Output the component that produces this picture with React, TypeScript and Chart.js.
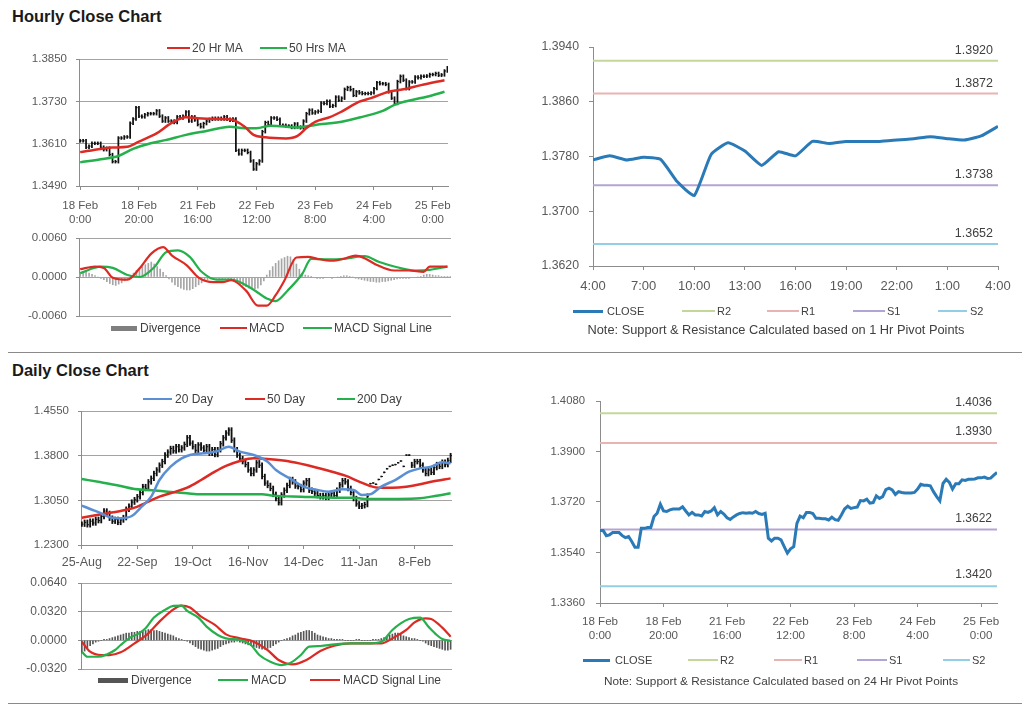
import React, { useEffect, useRef } from 'react';
import { Chart, registerables } from 'chart.js';

Chart.register(...registerables);

const FONT = "'Liberation Sans', Arial, Helvetica, sans-serif";
const TICK_COLOR = '#595959';
const TEXT_COLOR = '#404040';
const AXIS_COLOR = '#8c8c8c';
const GRID_COLOR = '#a3a3a3';
const RED = '#dc2a24';
const GREEN = '#25b04c';
const BLUE_MA = '#5b8fd4';
const CLOSE_BLUE = '#2a7ab8';
const PIVOT_COLORS = ['#c4d79b', '#e8b4b2', '#b3a5d3', '#92cfe4'];
const PIVOT_NAMES = ['R2', 'R1', 'S1', 'S2'];

// ---------- Hourly data (18 Feb 0:00 .. 25 Feb ~5:00) ----------
const hourlyTickIdx = [0, 20, 40, 60, 80, 100, 120];
const hourlyTickDates = ['18 Feb', '18 Feb', '21 Feb', '22 Feb', '23 Feb', '24 Feb', '25 Feb'];
const hourlyTickTimes = ['0:00', '20:00', '16:00', '12:00', '8:00', '4:00', '0:00'];

const hourlyClose = [
  1.3618, 1.3618, 1.3600, 1.3603, 1.3611, 1.3611, 1.3611, 1.3600, 1.3593, 1.3597,
  1.3579, 1.3559, 1.3559, 1.3626, 1.3626, 1.3629, 1.3629, 1.3668, 1.3680, 1.3712,
  1.3688, 1.3686, 1.3692, 1.3695, 1.3695, 1.3695, 1.3703, 1.3688, 1.3674, 1.3683,
  1.3674, 1.3674, 1.3670, 1.3686, 1.3683, 1.3688, 1.3700, 1.3674, 1.3686, 1.3677,
  1.3664, 1.3658, 1.3667, 1.3674, 1.3679, 1.3682, 1.3680, 1.3682, 1.3680, 1.3686,
  1.3679, 1.3676, 1.3680, 1.3591, 1.3581, 1.3591, 1.3591, 1.3585, 1.3561, 1.3538,
  1.3553, 1.3561, 1.3644, 1.3670, 1.3664, 1.3683, 1.3683, 1.3679, 1.3662, 1.3662,
  1.3660, 1.3660, 1.3656, 1.3666, 1.3657, 1.3655, 1.3674, 1.3695, 1.3705, 1.3697,
  1.3700, 1.3702, 1.3725, 1.3724, 1.3730, 1.3716, 1.3718, 1.3742, 1.3733, 1.3739,
  1.3764, 1.3769, 1.3763, 1.3747, 1.3757, 1.3754, 1.3752, 1.3752, 1.3752, 1.3754,
  1.3766, 1.3783, 1.3780, 1.3780, 1.3778, 1.3757, 1.3739, 1.3724, 1.3786, 1.3801,
  1.3790, 1.3766, 1.3785, 1.3785, 1.3799, 1.3797, 1.3801, 1.3801, 1.3802, 1.3806,
  1.3806, 1.3809, 1.3804, 1.3805, 1.3816, 1.3825,
];

const hourlyHigh = [
  1.3622, 1.3622, 1.3622, 1.3607, 1.3615, 1.3615, 1.3615, 1.3615, 1.3604, 1.3601,
  1.3601, 1.3583, 1.3563, 1.3630, 1.3630, 1.3633, 1.3633, 1.3672, 1.3684, 1.3716,
  1.3716, 1.3692, 1.3696, 1.3699, 1.3699, 1.3699, 1.3707, 1.3707, 1.3692, 1.3687,
  1.3687, 1.3678, 1.3678, 1.3690, 1.3690, 1.3692, 1.3704, 1.3704, 1.3690, 1.3690,
  1.3681, 1.3668, 1.3671, 1.3678, 1.3683, 1.3686, 1.3686, 1.3686, 1.3686, 1.3690,
  1.3690, 1.3683, 1.3684, 1.3684, 1.3595, 1.3595, 1.3595, 1.3595, 1.3589, 1.3565,
  1.3557, 1.3565, 1.3648, 1.3674, 1.3674, 1.3687, 1.3687, 1.3687, 1.3683, 1.3666,
  1.3666, 1.3664, 1.3664, 1.3670, 1.3670, 1.3661, 1.3678, 1.3699, 1.3709, 1.3709,
  1.3704, 1.3706, 1.3729, 1.3729, 1.3734, 1.3734, 1.3722, 1.3746, 1.3746, 1.3743,
  1.3768, 1.3773, 1.3773, 1.3767, 1.3761, 1.3761, 1.3758, 1.3756, 1.3756, 1.3758,
  1.3770, 1.3787, 1.3787, 1.3784, 1.3784, 1.3782, 1.3761, 1.3743, 1.3790, 1.3805,
  1.3805, 1.3794, 1.3789, 1.3789, 1.3803, 1.3803, 1.3805, 1.3805, 1.3806, 1.3810,
  1.3810, 1.3813, 1.3813, 1.3809, 1.3820, 1.3829,
];

const hourlyLow = [
  1.3614, 1.3614, 1.3596, 1.3596, 1.3599, 1.3607, 1.3607, 1.3596, 1.3589, 1.3589,
  1.3575, 1.3555, 1.3555, 1.3555, 1.3622, 1.3622, 1.3625, 1.3625, 1.3664, 1.3676,
  1.3684, 1.3682, 1.3682, 1.3688, 1.3691, 1.3691, 1.3691, 1.3684, 1.3670, 1.3670,
  1.3670, 1.3670, 1.3666, 1.3666, 1.3679, 1.3679, 1.3684, 1.3670, 1.3670, 1.3673,
  1.3660, 1.3654, 1.3654, 1.3663, 1.3670, 1.3675, 1.3676, 1.3676, 1.3676, 1.3676,
  1.3675, 1.3672, 1.3672, 1.3587, 1.3577, 1.3577, 1.3587, 1.3581, 1.3557, 1.3534,
  1.3534, 1.3549, 1.3557, 1.3640, 1.3660, 1.3660, 1.3679, 1.3675, 1.3658, 1.3658,
  1.3656, 1.3656, 1.3652, 1.3652, 1.3653, 1.3651, 1.3651, 1.3670, 1.3691, 1.3693,
  1.3693, 1.3696, 1.3698, 1.3720, 1.3720, 1.3712, 1.3712, 1.3714, 1.3729, 1.3729,
  1.3735, 1.3760, 1.3759, 1.3743, 1.3743, 1.3750, 1.3748, 1.3748, 1.3748, 1.3748,
  1.3750, 1.3762, 1.3776, 1.3776, 1.3774, 1.3753, 1.3735, 1.3720, 1.3720, 1.3782,
  1.3786, 1.3762, 1.3762, 1.3781, 1.3781, 1.3793, 1.3793, 1.3797, 1.3797, 1.3798,
  1.3802, 1.3802, 1.3800, 1.3800, 1.3801, 1.3812,
];

const ma20HrIdx = [0, 7, 11, 16, 20, 26, 31, 36, 40, 46, 51, 56, 59, 63, 70, 74, 77, 80, 85, 89, 95, 99, 105, 110, 116, 124];
const ma20HrVal = [1.3586, 1.3595, 1.3599, 1.3601, 1.3616, 1.3639, 1.3668, 1.3685, 1.3682, 1.3680, 1.3679, 1.3658, 1.3635, 1.3628, 1.3625, 1.3632, 1.3654, 1.3672, 1.3685, 1.3701, 1.3729, 1.3739, 1.3757, 1.3764, 1.3776, 1.3790];
const ma50HrIdx = [0, 7, 13, 18, 24, 29, 36, 43, 51, 56, 60, 65, 74, 80, 89, 96, 103, 107, 113, 118, 124];
const ma50HrVal = [1.3557, 1.3566, 1.3575, 1.3595, 1.3611, 1.3620, 1.3635, 1.3646, 1.3658, 1.3654, 1.3654, 1.3661, 1.3656, 1.3663, 1.3672, 1.3686, 1.3703, 1.3720, 1.3734, 1.3743, 1.3757];

const hMacdIdx = [0, 5, 8, 11, 16, 20, 24, 28, 31, 36, 40, 45, 48, 51, 56, 60, 63, 66, 69, 73, 77, 80, 85, 89, 93, 96, 100, 106, 111, 116, 118, 124];
const hMacdVal = [0.0012, 0.0016, 0.0014, -0.0001, -0.0004, 0.0013, 0.0036, 0.0046, 0.0033, 0.0018, -0.0001, -0.0008, -0.0008, -0.0005, -0.0021, -0.0044, -0.0044, -0.0028, -0.0005, 0.0030, 0.0031, 0.0028, 0.0025, 0.0028, 0.0033, 0.0029, 0.0019, 0.0010, 0.0010, 0.0008, 0.0016, 0.0016];
const hSignalIdx = [0, 7, 11, 16, 20, 25, 29, 33, 37, 41, 46, 51, 58, 63, 66, 70, 75, 78, 84, 89, 96, 101, 107, 113, 118, 124];
const hSignalVal = [0.0006, 0.0016, 0.0014, 0.0003, 0.0000, 0.0015, 0.0038, 0.0041, 0.0031, 0.0008, -0.0004, -0.0004, -0.0018, -0.0033, -0.0037, -0.0021, 0.0005, 0.0028, 0.0027, 0.0028, 0.0032, 0.0023, 0.0015, 0.0010, 0.0011, 0.0016];
const hDivergence = [
  0.0005, 0.0007, 0.0008, 0.0006, 0.0004, 0.0002, 0.0000, -0.0002, -0.0004, -0.0007,
  -0.0010, -0.0012, -0.0013, -0.0011, -0.0009, -0.0006, -0.0003, 0.0002, 0.0006, 0.0010,
  0.0013, 0.0016, 0.0019, 0.0021, 0.0023, 0.0020, 0.0016, 0.0012, 0.0007, 0.0002,
  -0.0003, -0.0008, -0.0012, -0.0015, -0.0017, -0.0019, -0.0020, -0.0020, -0.0018, -0.0015,
  -0.0012, -0.0009, -0.0006, -0.0004, -0.0003, -0.0003, -0.0002, -0.0003, -0.0003, -0.0002,
  -0.0003, -0.0005, -0.0007, -0.0009, -0.0011, -0.0013, -0.0015, -0.0017, -0.0018, -0.0018,
  -0.0017, -0.0012, -0.0006, 0.0003, 0.0010, 0.0016, 0.0021, 0.0025, 0.0028, 0.0030,
  0.0032, 0.0031, 0.0027, 0.0020, 0.0012, 0.0006, 0.0003, 0.0002, 0.0001, -0.0001,
  -0.0002, -0.0002, -0.0002, -0.0001, -0.0001, -0.0002, -0.0001, 0.0000, 0.0001, 0.0002,
  0.0002, 0.0001, 0.0000, -0.0002, -0.0003, -0.0004, -0.0005, -0.0006, -0.0007, -0.0007,
  -0.0008, -0.0008, -0.0007, -0.0007, -0.0006, -0.0005, -0.0004, -0.0003, -0.0002, -0.0002,
  -0.0002, -0.0002, -0.0001, -0.0001, 0.0000, 0.0001, 0.0003, 0.0004, 0.0004, 0.0003,
  0.0002, 0.0002, 0.0001, 0.0001, 0.0001, 0.0001,
];

// last 24 hours close (4:00 .. 4:00)
const lastDayClose = [1.3775, 1.3781, 1.3775, 1.3779, 1.3776, 1.3743, 1.3723, 1.3783, 1.3800, 1.3788, 1.3767, 1.3787, 1.3781, 1.3802, 1.3799, 1.3802, 1.3802, 1.3802, 1.3804, 1.3806, 1.3809, 1.3806, 1.3804, 1.3810, 1.3824];
const lastDayTickIdx = [0, 3, 6, 9, 12, 15, 18, 21, 24];
const lastDayTickLabels = ['4:00', '7:00', '10:00', '13:00', '16:00', '19:00', '22:00', '1:00', '4:00'];
const hourPivotLevels = [1.3920, 1.3872, 1.3738, 1.3652];
const hourPivotTicks = [1.3620, 1.3700, 1.3780, 1.3860, 1.3940];

// ---------- Daily data (25-Aug .. 24-Feb) ----------
const dailyTickIdx = [0, 20, 40, 60, 80, 100, 120];
const dailyTickLabels = ['25-Aug', '22-Sep', '19-Oct', '16-Nov', '14-Dec', '11-Jan', '8-Feb'];
const dailyClose = [
  1.2650, 1.2680, 1.2640, 1.2700, 1.2670, 1.2730, 1.2710, 1.2780, 1.2870, 1.2830,
  1.2750, 1.2700, 1.2730, 1.2680, 1.2720, 1.2760, 1.2900, 1.2950, 1.3020, 1.3060,
  1.3110, 1.3180, 1.3280, 1.3250, 1.3360, 1.3420, 1.3500, 1.3560, 1.3640, 1.3700,
  1.3810, 1.3860, 1.3920, 1.3880, 1.3950, 1.3900, 1.3930, 1.3990, 1.4100, 1.4010,
  1.3950, 1.3890, 1.3980, 1.3930, 1.3890, 1.3950, 1.3840, 1.3900, 1.3820, 1.3900,
  1.4000, 1.4100, 1.4180, 1.4230, 1.4060, 1.3900, 1.3810, 1.3750, 1.3700, 1.3650,
  1.3560, 1.3500, 1.3560, 1.3680, 1.3640, 1.3450, 1.3340, 1.3300, 1.3250, 1.3150,
  1.3080, 1.3010, 1.3140, 1.3220, 1.3300, 1.3400, 1.3360, 1.3290, 1.3280, 1.3230,
  1.3340, 1.3380, 1.3220, 1.3200, 1.3170, 1.3130, 1.3110, 1.3130, 1.3100, 1.3140,
  1.3170, 1.3130, 1.3220, 1.3310, 1.3380, 1.3360, 1.3250, 1.3180, 1.3080, 1.2990,
  1.2950, 1.2960, 1.2980, 1.3120, 1.3330, 1.3340, 1.3320, 1.3400, 1.3450, 1.3520,
  1.3580, 1.3620, 1.3640, 1.3650, 1.3680, 1.3710, 1.3620, 1.3810, 1.3810, 1.3640,
  1.3700, 1.3700, 1.3640, 1.3560, 1.3500, 1.3560, 1.3520, 1.3600, 1.3650, 1.3620,
  1.3690, 1.3650, 1.3720, 1.3800,
];
const dailyHigh = [
  1.2690, 1.2720, 1.2720, 1.2740, 1.2740, 1.2770, 1.2770, 1.2820, 1.2910, 1.2910,
  1.2870, 1.2790, 1.2770, 1.2770, 1.2760, 1.2800, 1.2940, 1.2990, 1.3060, 1.3100,
  1.3150, 1.3220, 1.3320, 1.3320, 1.3400, 1.3460, 1.3540, 1.3600, 1.3680, 1.3740,
  1.3850, 1.3900, 1.3960, 1.3960, 1.3990, 1.3990, 1.3970, 1.4030, 1.4140, 1.4140,
  1.4050, 1.3990, 1.4020, 1.4020, 1.3970, 1.3990, 1.3990, 1.3940, 1.3940, 1.3940,
  1.4040, 1.4140, 1.4220, 1.4270, 1.4270, 1.4100, 1.3940, 1.3850, 1.3790, 1.3740,
  1.3690, 1.3600, 1.3600, 1.3720, 1.3720, 1.3680, 1.3490, 1.3380, 1.3340, 1.3290,
  1.3190, 1.3120, 1.3180, 1.3260, 1.3340, 1.3440, 1.3440, 1.3400, 1.3330, 1.3320,
  1.3380, 1.3420, 1.3420, 1.3260, 1.3240, 1.3210, 1.3170, 1.3170, 1.3170, 1.3180,
  1.3210, 1.3210, 1.3260, 1.3350, 1.3420, 1.3420, 1.3400, 1.3290, 1.3220, 1.3120,
  1.3030, 1.3000, 1.3020, 1.3160, 1.3338, 1.3348, 1.3328, 1.3408, 1.3458, 1.3528,
  1.3588, 1.3628, 1.3648, 1.3658, 1.3688, 1.3718, 1.3628, 1.3818, 1.3818, 1.3690,
  1.3740, 1.3740, 1.3740, 1.3680, 1.3600, 1.3600, 1.3600, 1.3640, 1.3690, 1.3690,
  1.3730, 1.3730, 1.3760, 1.3840,
];
const dailyLow = [
  1.2610, 1.2610, 1.2600, 1.2600, 1.2630, 1.2630, 1.2670, 1.2670, 1.2740, 1.2790,
  1.2710, 1.2660, 1.2660, 1.2640, 1.2640, 1.2680, 1.2720, 1.2860, 1.2910, 1.2980,
  1.3020, 1.3070, 1.3140, 1.3210, 1.3210, 1.3320, 1.3380, 1.3460, 1.3520, 1.3600,
  1.3660, 1.3770, 1.3820, 1.3840, 1.3840, 1.3860, 1.3860, 1.3890, 1.3950, 1.3970,
  1.3910, 1.3850, 1.3850, 1.3890, 1.3850, 1.3850, 1.3800, 1.3800, 1.3780, 1.3780,
  1.3860, 1.3960, 1.4060, 1.4140, 1.4020, 1.3860, 1.3770, 1.3710, 1.3660, 1.3610,
  1.3520, 1.3460, 1.3460, 1.3520, 1.3600, 1.3410, 1.3300, 1.3260, 1.3210, 1.3110,
  1.3040, 1.2970, 1.2970, 1.3100, 1.3180, 1.3260, 1.3320, 1.3250, 1.3240, 1.3190,
  1.3190, 1.3300, 1.3180, 1.3160, 1.3130, 1.3090, 1.3070, 1.3070, 1.3060, 1.3060,
  1.3100, 1.3090, 1.3090, 1.3180, 1.3270, 1.3320, 1.3210, 1.3140, 1.3040, 1.2950,
  1.2910, 1.2910, 1.2920, 1.2940, 1.3322, 1.3332, 1.3312, 1.3392, 1.3442, 1.3512,
  1.3572, 1.3612, 1.3632, 1.3642, 1.3672, 1.3702, 1.3612, 1.3802, 1.3802, 1.3600,
  1.3600, 1.3660, 1.3600, 1.3520, 1.3460, 1.3460, 1.3480, 1.3480, 1.3560, 1.3580,
  1.3580, 1.3610, 1.3610, 1.3680,
];

const ma20DayIdx = [0, 3, 7, 10, 14, 18, 21, 25, 28, 32, 36, 39, 44, 49, 53, 57, 62, 67, 70, 75, 80, 85, 89, 94, 98, 101, 104, 108, 113, 118, 122, 126, 130, 133];
const ma20DayVal = [1.2961, 1.2904, 1.2832, 1.2765, 1.2748, 1.2787, 1.2916, 1.3112, 1.3391, 1.3615, 1.3755, 1.3811, 1.3839, 1.3878, 1.3951, 1.3867, 1.3811, 1.3699, 1.3559, 1.3419, 1.3280, 1.3224, 1.3196, 1.3235, 1.3224, 1.3140, 1.3151, 1.3280, 1.3391, 1.3531, 1.3587, 1.3615, 1.3688, 1.3671];
const ma50DayIdx = [0, 7, 14, 19, 24, 28, 33, 38, 43, 48, 52, 57, 62, 67, 74, 81, 88, 95, 100, 104, 107, 112, 117, 122, 126, 133];
const ma50DayVal = [1.2759, 1.2815, 1.2871, 1.2927, 1.3028, 1.3112, 1.3184, 1.3263, 1.3391, 1.3531, 1.3627, 1.3710, 1.3755, 1.3744, 1.3710, 1.3643, 1.3559, 1.3464, 1.3363, 1.3291, 1.3263, 1.3263, 1.3280, 1.3319, 1.3363, 1.3419];
const ma200DayIdx = [0, 7, 14, 19, 24, 31, 38, 43, 55, 65, 69, 79, 91, 98, 102, 114, 122, 126, 133];
const ma200DayVal = [1.3408, 1.3352, 1.3291, 1.3240, 1.3224, 1.3196, 1.3168, 1.3151, 1.3151, 1.3151, 1.3129, 1.3112, 1.3095, 1.3095, 1.3073, 1.3073, 1.3084, 1.3112, 1.3168];

const dMacdIdx = [0, 2, 6, 9, 12, 14, 18, 20, 23, 26, 30, 33, 36, 38, 42, 45, 49, 52, 57, 61, 64, 68, 72, 75, 79, 82, 86, 91, 97, 103, 108, 112, 115, 118, 122, 125, 128, 130, 133];
const dMacdVal = [-0.0127, -0.0183, -0.0183, -0.0157, -0.0108, -0.0052, 0.0041, 0.0067, 0.0134, 0.0254, 0.0340, 0.0384, 0.0388, 0.0328, 0.0254, 0.0153, 0.0060, 0.0022, 0.0004, -0.0052, -0.0164, -0.0239, -0.0276, -0.0257, -0.0164, -0.0071, -0.0063, -0.0045, -0.0034, -0.0034, -0.0015, 0.0116, 0.0190, 0.0239, 0.0254, 0.0153, 0.0060, 0.0015, -0.0007];
const dSignalIdx = [0, 3, 7, 10, 14, 19, 24, 28, 32, 36, 39, 43, 48, 52, 57, 62, 67, 71, 76, 81, 86, 91, 97, 103, 108, 112, 117, 120, 124, 126, 130, 133];
const dSignalVal = [-0.0015, -0.0127, -0.0164, -0.0164, -0.0134, -0.0034, 0.0078, 0.0209, 0.0321, 0.0388, 0.0366, 0.0265, 0.0172, 0.0067, 0.0022, -0.0015, -0.0108, -0.0220, -0.0269, -0.0220, -0.0119, -0.0060, -0.0034, -0.0034, -0.0034, 0.0022, 0.0116, 0.0201, 0.0246, 0.0239, 0.0142, 0.0041];
const dDivergence = [
  -0.014, -0.012, -0.009, -0.006, -0.004, -0.002, -0.001, 0.000, 0.001, 0.001,
  0.002, 0.003, 0.004, 0.005, 0.006, 0.007, 0.008, 0.008, 0.009, 0.009,
  0.010, 0.010, 0.010, 0.011, 0.012, 0.012, 0.011, 0.011, 0.010, 0.009,
  0.008, 0.007, 0.006, 0.005, 0.003, 0.002, 0.001, 0.000, -0.001, -0.003,
  -0.005, -0.007, -0.009, -0.010, -0.011, -0.012, -0.012, -0.011, -0.010, -0.009,
  -0.007, -0.005, -0.004, -0.003, -0.002, -0.002, -0.001, -0.002, -0.003, -0.004,
  -0.005, -0.006, -0.007, -0.008, -0.009, -0.010, -0.010, -0.009, -0.008, -0.006,
  -0.004, -0.002, 0.000, 0.001, 0.002, 0.003, 0.005, 0.006, 0.008, 0.009,
  0.010, 0.011, 0.011, 0.010, 0.008, 0.006, 0.005, 0.004, 0.003, 0.002,
  0.002, 0.001, 0.001, 0.001, 0.001, 0.000, 0.000, 0.000, 0.000, 0.001,
  0.001, 0.000, 0.000, 0.000, 0.000, 0.001, 0.001, 0.001, 0.002, 0.003,
  0.004, 0.006, 0.007, 0.008, 0.008, 0.007, 0.005, 0.004, 0.003, 0.002,
  0.002, 0.001, 0.000, -0.001, -0.003, -0.005, -0.006, -0.007, -0.008, -0.009,
  -0.010, -0.011, -0.011, -0.010,
];

const dayPivotLevels = [1.4036, 1.3930, 1.3622, 1.3420];
const dayPivotTicks = [1.3360, 1.3540, 1.3720, 1.3900, 1.4080];

const hourPriceTicks = [1.3490, 1.3610, 1.3730, 1.3850];
const hourMacdTicks = [-0.0060, 0.0000, 0.0060];
const dayPriceTicks = [1.2300, 1.3050, 1.3800, 1.4550];
const dayMacdTicks = [-0.0320, 0.0000, 0.0320, 0.0640];

// ---------- helpers ----------
const pts = (idx: number[], val: number[]) => idx.map((x, i) => ({ x, y: val[i] }));
const seq = (val: number[]) => val.map((y, x) => ({ x, y }));

function yScale(o: { min: number; max: number; ticks: number[]; width: number; size: number; pad: number; grid: boolean; tickLen?: number }) {
  return {
    type: 'linear',
    position: 'left',
    min: o.min,
    max: o.max,
    afterBuildTicks: (s: any) => { s.ticks = o.ticks.map((v) => ({ value: v })); },
    afterFit: (s: any) => { s.width = o.width; },
    ticks: {
      color: TICK_COLOR,
      font: { family: FONT, size: o.size },
      padding: o.pad,
      callback: (v: any) => {
        const n = Math.abs(Number(v)) < 1e-9 ? 0 : Number(v);
        return n.toFixed(4);
      },
    },
    grid: {
      drawOnChartArea: o.grid,
      color: GRID_COLOR,
      tickColor: AXIS_COLOR,
      tickLength: o.tickLen ?? 3,
      lineWidth: 1,
    },
    border: { display: true, color: AXIS_COLOR, width: 1 },
  };
}

function xScale(o: { min: number; max: number; ticks: number[]; labels: any[]; height: number; size: number; pad: number; display?: boolean }) {
  return {
    type: 'linear',
    min: o.min,
    max: o.max,
    offset: false,
    display: o.display ?? true,
    afterBuildTicks: (s: any) => { s.ticks = o.ticks.map((v) => ({ value: v })); },
    afterFit: (s: any) => { s.height = o.height; },
    ticks: {
      color: TICK_COLOR,
      font: { family: FONT, size: o.size },
      padding: o.pad,
      maxRotation: 0,
      minRotation: 0,
      autoSkip: false,
      callback: (_v: any, i: number) => o.labels[i],
    },
    grid: { drawOnChartArea: false, offset: false, color: AXIS_COLOR, tickLength: 4 },
    border: { display: true, color: AXIS_COLOR, width: 1 },
  };
}

function baseOptions(padding: any, scales: any) {
  return {
    animation: false,
    responsive: false,
    maintainAspectRatio: false,
    devicePixelRatio: 1,
    events: [],
    layout: { padding },
    plugins: { legend: { display: false }, tooltip: { enabled: false } },
    scales,
  };
}

function pivotLabelPlugin(levels: number[], size: number, gap: number) {
  return {
    id: 'pivotLabels',
    afterDatasetsDraw(chart: any) {
      const { ctx, chartArea, scales } = chart;
      ctx.save();
      ctx.font = `${size}px ${FONT}`;
      ctx.fillStyle = TEXT_COLOR;
      ctx.textAlign = 'right';
      ctx.textBaseline = 'bottom';
      levels.forEach((v) => {
        ctx.fillText(v.toFixed(4), chartArea.right - 5, scales.y.getPixelForValue(v) - gap);
      });
      ctx.restore();
    },
  };
}

function lineDs(data: any[], color: string, width: number, smooth = true) {
  return {
    type: 'line',
    data,
    borderColor: color,
    backgroundColor: color,
    borderWidth: width,
    pointRadius: 0,
    fill: false,
    cubicInterpolationMode: smooth ? 'monotone' : 'default',
    tension: 0,
  };
}

function ohlcDatasets(low: number[], high: number[], close: number[], thick: number) {
  return [
    {
      type: 'scatter',
      data: seq(close),
      pointStyle: 'dash',
      pointRadius: 1.6,
      borderColor: '#111',
      borderWidth: 1,
      showLine: false,
    },
    {
      type: 'bar',
      data: low.map((lo, i) => ({ x: i, y: [lo, high[i]] })),
      backgroundColor: '#111',
      borderWidth: 0,
      barThickness: thick,
      grouped: false,
    },
  ];
}

// ---------- chart configs ----------
const makeHourlyPrice = () => ({
  type: 'bar',
  data: {
    datasets: [
      lineDs(pts(ma20HrIdx, ma20HrVal), RED, 2.5),
      lineDs(pts(ma50HrIdx, ma50HrVal), GREEN, 2.5),
      ...ohlcDatasets(hourlyLow, hourlyHigh, hourlyClose, 1.1),
    ],
  },
  options: baseOptions({ top: 19, right: 9, left: 0, bottom: 0 }, {
    x: xScale({ min: -0.4, max: 125.2, ticks: hourlyTickIdx, labels: hourlyTickIdx.map((_, i) => [hourlyTickDates[i], hourlyTickTimes[i]]), height: 44, size: 11.5, pad: 9 }),
    y: yScale({ min: 1.3490, max: 1.3850, ticks: hourPriceTicks, width: 79, size: 11.5, pad: 9, grid: true }),
  }),
});

const makeHourlyMacd = () => ({
  type: 'bar',
  data: {
    datasets: [
      lineDs(pts(hMacdIdx, hMacdVal), RED, 2.2),
      lineDs(pts(hSignalIdx, hSignalVal), GREEN, 2.2),
      {
        type: 'bar',
        data: seq(hDivergence),
        backgroundColor: '#a6a6a6',
        borderWidth: 0,
        barThickness: 1,
        grouped: false,
      },
    ],
  },
  options: baseOptions({ top: 20, right: 9, left: 0, bottom: 20 }, {
    x: xScale({ min: -0.4, max: 125.2, ticks: hourlyTickIdx, labels: [], height: 0, size: 11, pad: 0, display: false }),
    y: yScale({ min: -0.006, max: 0.006, ticks: hourMacdTicks, width: 79, size: 11.5, pad: 9, grid: true }),
  }),
});

const makeHourPivot = () => ({
  type: 'line',
  data: {
    datasets: [
      { ...lineDs(seq(lastDayClose), CLOSE_BLUE, 3, false), tension: 0.15 },
      ...hourPivotLevels.map((v, k) => lineDs([{ x: 0, y: v }, { x: 24, y: v }], PIVOT_COLORS[k], 2, false)),
    ],
  },
  options: baseOptions({ top: 20, right: 22, left: 0, bottom: 0 }, {
    x: xScale({ min: 0, max: 24, ticks: lastDayTickIdx, labels: lastDayTickLabels, height: 34, size: 13, pad: 9 }),
    y: yScale({ min: 1.3620, max: 1.3940, ticks: hourPivotTicks, width: 73, size: 12.3, pad: 10, grid: false, tickLen: 4 }),
  }),
  plugins: [pivotLabelPlugin(hourPivotLevels, 12.5, 4)],
});

const makeDailyPrice = () => ({
  type: 'bar',
  data: {
    datasets: [
      lineDs(pts(ma20DayIdx, ma20DayVal), BLUE_MA, 2.5),
      lineDs(pts(ma50DayIdx, ma50DayVal), RED, 2.5),
      lineDs(pts(ma200DayIdx, ma200DayVal), GREEN, 2.5),
      ...ohlcDatasets(dailyLow, dailyHigh, dailyClose, 1.2),
    ],
  },
  options: baseOptions({ top: 18, right: 8, left: 0, bottom: 0 }, {
    x: xScale({ min: -0.3, max: 133.5, ticks: dailyTickIdx, labels: dailyTickLabels, height: 30, size: 12.5, pad: 6 }),
    y: yScale({ min: 1.2300, max: 1.4550, ticks: dayPriceTicks, width: 81, size: 11.5, pad: 9, grid: true }),
  }),
});

const makeDailyMacd = () => ({
  type: 'bar',
  data: {
    datasets: [
      lineDs(pts(dMacdIdx, dMacdVal), GREEN, 2.2),
      lineDs(pts(dSignalIdx, dSignalVal), RED, 2.2),
      {
        type: 'bar',
        data: seq(dDivergence),
        backgroundColor: '#555555',
        borderWidth: 0,
        barThickness: 1,
        grouped: false,
      },
    ],
  },
  options: baseOptions({ top: 22, right: 8, left: 0, bottom: 22 }, {
    x: xScale({ min: -0.3, max: 133.5, ticks: dailyTickIdx, labels: [], height: 0, size: 11, pad: 0, display: false }),
    y: yScale({ min: -0.032, max: 0.064, ticks: dayMacdTicks, width: 81, size: 12, pad: 11, grid: true }),
  }),
});

const makeDayPivot = () => ({
  type: 'line',
  data: {
    datasets: [
      lineDs(seq(hourlyClose), CLOSE_BLUE, 3, false),
      ...dayPivotLevels.map((v, k) => lineDs([{ x: 0, y: v }, { x: 125, y: v }], PIVOT_COLORS[k], 2, false)),
    ],
  },
  options: baseOptions({ top: 20, right: 23, left: 0, bottom: 0 }, {
    x: xScale({ min: 0, max: 125, ticks: hourlyTickIdx, labels: hourlyTickIdx.map((_, i) => [hourlyTickDates[i], hourlyTickTimes[i]]), height: 44, size: 11.6, pad: 8 }),
    y: yScale({ min: 1.3360, max: 1.4080, ticks: dayPivotTicks, width: 80, size: 11.3, pad: 11, grid: false, tickLen: 4 }),
  }),
  plugins: [pivotLabelPlugin(dayPivotLevels, 12, 5)],
});

// ---------- components ----------
function ChartBox(props: { left: number; top: number; width: number; height: number; make: () => any }) {
  const ref = useRef<HTMLCanvasElement | null>(null);
  useEffect(() => {
    const chart = new Chart(ref.current as HTMLCanvasElement, props.make());
    return () => chart.destroy();
  }, []);
  return (
    <canvas
      ref={ref}
      width={props.width}
      height={props.height}
      style={{ position: 'absolute', left: props.left, top: props.top, width: props.width, height: props.height }}
    />
  );
}

function Txt(props: { x: number; y: number; text: string; size: number; bold?: boolean; center?: boolean; color?: string }) {
  const lh = Math.round(props.size * 1.3);
  return (
    <div
      style={{
        position: 'absolute',
        left: props.x,
        top: props.y - lh / 2,
        lineHeight: `${lh}px`,
        fontSize: props.size,
        fontFamily: FONT,
        fontWeight: props.bold ? 'bold' : 'normal',
        color: props.color ?? TEXT_COLOR,
        whiteSpace: 'nowrap',
        transform: props.center ? 'translateX(-50%)' : undefined,
      }}
    >
      {props.text}
    </div>
  );
}

function Swatch(props: { x1: number; x2: number; y: number; color: string; h: number }) {
  return (
    <div
      style={{
        position: 'absolute',
        left: props.x1,
        top: props.y - props.h / 2,
        width: props.x2 - props.x1,
        height: props.h,
        background: props.color,
      }}
    />
  );
}

function Rule(props: { y: number }) {
  return <div style={{ position: 'absolute', left: 8, top: props.y, width: 1014, height: 1, background: '#8a8a8a' }} />;
}

export default function App() {
  const hourLegendX = [573, 682, 767, 853, 938];
  const hourLegendTextX = [607, 717, 801, 887, 970];
  const hourLegendEnd = [603, 715, 799, 885, 967];
  const dayLegendX = [583, 688, 774, 857, 943];
  const dayLegendEnd = [610, 718, 802, 887, 970];
  const dayLegendTextX = [615, 720, 804, 889, 972];

  return (
    <div style={{ position: 'absolute', left: 0, top: 0, width: 1024, height: 706, background: '#ffffff', overflow: 'hidden' }}>
      {/* charts first (transparent canvases, may overlap) */}
      <ChartBox left={0} top={40} width={460} height={190} make={makeHourlyPrice} />
      <ChartBox left={0} top={218} width={460} height={118} make={makeHourlyMacd} />
      <ChartBox left={520} top={27} width={500} height={273} make={makeHourPivot} />
      <ChartBox left={0} top={393} width={460} height={182} make={makeDailyPrice} />
      <ChartBox left={0} top={561} width={460} height={130} make={makeDailyMacd} />
      <ChartBox left={520} top={381} width={500} height={266} make={makeDayPivot} />

      <Txt x={12} y={16} text="Hourly Close Chart" size={16.5} bold color="#1a1a1a" />
      <Txt x={12} y={370} text="Daily Close Chart" size={16.5} bold color="#1a1a1a" />
      <Rule y={352} />
      <Rule y={703} />

      {/* Hourly price legend */}
      <Swatch x1={167} x2={190} y={48} color={RED} h={2} />
      <Txt x={192} y={48} text="20 Hr MA" size={12} />
      <Swatch x1={260} x2={287} y={48} color={GREEN} h={2} />
      <Txt x={289} y={48} text="50 Hrs MA" size={12} />

      {/* Hourly MACD legend */}
      <Swatch x1={111} x2={137} y={328} color="#7f7f7f" h={5} />
      <Txt x={140} y={328} text="Divergence" size={12} />
      <Swatch x1={220} x2={247} y={328} color={RED} h={2} />
      <Txt x={249} y={328} text="MACD" size={12} />
      <Swatch x1={303} x2={332} y={328} color={GREEN} h={2} />
      <Txt x={334} y={328} text="MACD Signal Line" size={12} />

      {/* Hourly pivot legend */}
      <Swatch x1={hourLegendX[0]} x2={hourLegendEnd[0]} y={311} color={CLOSE_BLUE} h={3} />
      <Txt x={hourLegendTextX[0]} y={311} text="CLOSE" size={11} />
      {PIVOT_NAMES.map((n, k) => (
        <React.Fragment key={'h' + n}>
          <Swatch x1={hourLegendX[k + 1]} x2={hourLegendEnd[k + 1]} y={311} color={PIVOT_COLORS[k]} h={2} />
          <Txt x={hourLegendTextX[k + 1]} y={311} text={n} size={11} />
        </React.Fragment>
      ))}
      <Txt x={776} y={329} text="Note: Support & Resistance Calculated based on 1 Hr Pivot Points" size={12.8} center />

      {/* Daily price legend */}
      <Swatch x1={143} x2={172} y={399} color={BLUE_MA} h={2} />
      <Txt x={175} y={399} text="20 Day" size={12} />
      <Swatch x1={245} x2={265} y={399} color={RED} h={2} />
      <Txt x={267} y={399} text="50 Day" size={12} />
      <Swatch x1={337} x2={355} y={399} color={GREEN} h={2} />
      <Txt x={357} y={399} text="200 Day" size={12} />

      {/* Daily MACD legend */}
      <Swatch x1={98} x2={128} y={680} color="#555555" h={5} />
      <Txt x={131} y={680} text="Divergence" size={12} />
      <Swatch x1={218} x2={248} y={680} color={GREEN} h={2} />
      <Txt x={251} y={680} text="MACD" size={12} />
      <Swatch x1={310} x2={340} y={680} color={RED} h={2} />
      <Txt x={343} y={680} text="MACD Signal Line" size={12} />

      {/* Daily pivot legend */}
      <Swatch x1={dayLegendX[0]} x2={dayLegendEnd[0]} y={660} color={CLOSE_BLUE} h={3} />
      <Txt x={dayLegendTextX[0]} y={660} text="CLOSE" size={11} />
      {PIVOT_NAMES.map((n, k) => (
        <React.Fragment key={'d' + n}>
          <Swatch x1={dayLegendX[k + 1]} x2={dayLegendEnd[k + 1]} y={660} color={PIVOT_COLORS[k]} h={2} />
          <Txt x={dayLegendTextX[k + 1]} y={660} text={n} size={11} />
        </React.Fragment>
      ))}
      <Txt x={781} y={681} text="Note: Support & Resistance Calculated based on 24 Hr Pivot Points" size={11.8} center />
    </div>
  );
}
